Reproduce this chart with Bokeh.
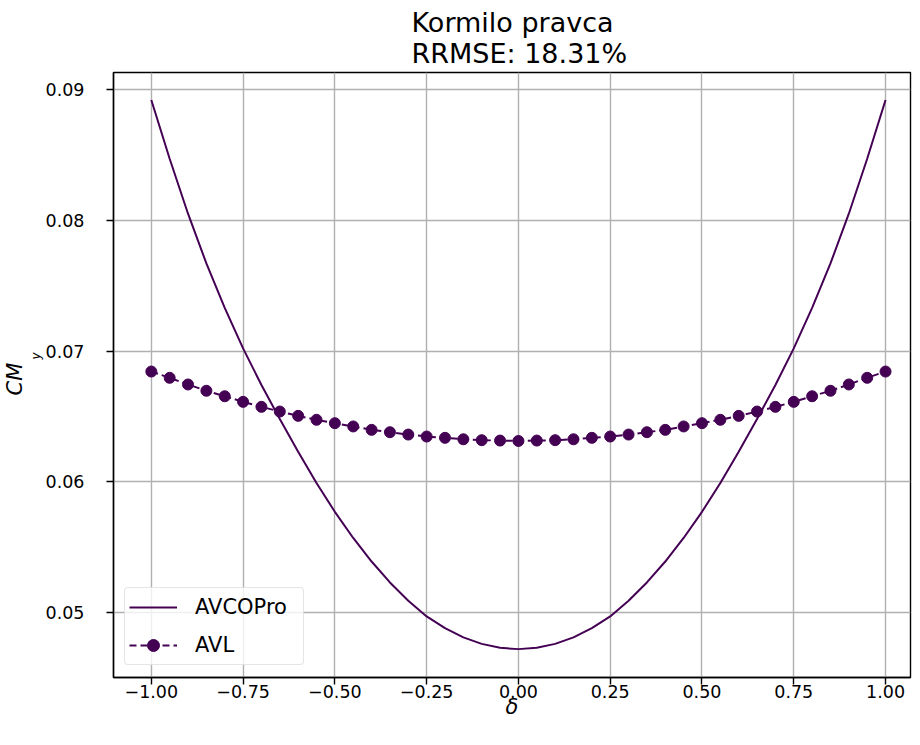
from bokeh.plotting import figure
from bokeh.models import Range1d, FixedTicker, CustomJSTickFormatter, Title
from bokeh.embed import file_html
from bokeh.resources import INLINE

# ---- data ----
title_lines = ["Kormilo pravca", "RRMSE: 18.31%"]
x_label = "δ"
y_label_main = "CM"
y_label_sub = "y"

delta = [-1.00, -0.95, -0.90, -0.85, -0.80, -0.75, -0.70, -0.65, -0.60, -0.55,
         -0.50, -0.45, -0.40, -0.35, -0.30, -0.25, -0.20, -0.15, -0.10, -0.05,
         0.00, 0.05, 0.10, 0.15, 0.20, 0.25, 0.30, 0.35, 0.40, 0.45,
         0.50, 0.55, 0.60, 0.65, 0.70, 0.75, 0.80, 0.85, 0.90, 0.95, 1.00]

avcopro = [0.0892, 0.0847, 0.0805, 0.0767, 0.0733, 0.0702, 0.0674, 0.0648, 0.0623, 0.0599,
           0.0577, 0.0557, 0.0539, 0.0523, 0.0509, 0.0497, 0.0488, 0.0481, 0.0476, 0.0473,
           0.0472, 0.0473, 0.0476, 0.0481, 0.0488, 0.0497, 0.0509, 0.0523, 0.0539, 0.0557,
           0.0577, 0.0599, 0.0623, 0.0648, 0.0674, 0.0702, 0.0733, 0.0767, 0.0805, 0.0847, 0.0892]

avl = [0.06843, 0.06795, 0.06744, 0.06696, 0.06654, 0.06611, 0.06573, 0.06537, 0.06504, 0.06474,
       0.06448, 0.06423, 0.06397, 0.06379, 0.06361, 0.06346, 0.06336, 0.06325, 0.06318, 0.06315,
       0.06312, 0.06315, 0.06318, 0.06325, 0.06336, 0.06346, 0.06361, 0.06379, 0.06397, 0.06423,
       0.06448, 0.06474, 0.06504, 0.06537, 0.06573, 0.06611, 0.06654, 0.06696, 0.06744, 0.06795, 0.06843]

x_ticks = [-1.00, -0.75, -0.50, -0.25, 0.00, 0.25, 0.50, 0.75, 1.00]
y_ticks = [0.05, 0.06, 0.07, 0.08, 0.09]

color = "#440154"
FONT = "DejaVu Sans"

p = figure(width=912, height=737, output_backend="svg", toolbar_location=None,
           x_range=Range1d(-1.103, 1.068), y_range=Range1d(0.04503, 0.0913),
           min_border_left=111, min_border_right=2, min_border_top=72, min_border_bottom=60)

p.title.text = "\n".join(title_lines)
p.title.align = "left"
p.title.offset = 298
p.title.text_font = FONT
p.title.text_font_size = "27px"
p.title.text_font_style = "normal"
p.title.text_color = "black"
p.title.standoff = 8

p.line(delta, avcopro, line_color=color, line_width=2, legend_label="AVCOPro")
p.line(delta, avl, line_color=color, line_width=2, line_dash="7 4", legend_label="AVL")
p.scatter(delta, avl, size=11, fill_color=color, line_color=color, legend_label="AVL")

for ax in (p.xaxis[0], p.yaxis[0]):
    ax.axis_line_color = "black"
    ax.axis_line_width = 1.4
    ax.major_tick_line_color = "black"
    ax.major_tick_line_width = 1.4
    ax.major_tick_out = 7
    ax.major_tick_in = 0
    ax.minor_tick_out = 0
    ax.minor_tick_in = 0
    ax.major_label_text_font = FONT
    ax.major_label_text_font_size = "17.5px"
    ax.major_label_text_color = "black"

p.xaxis.ticker = FixedTicker(ticks=x_ticks)
p.yaxis.ticker = FixedTicker(ticks=y_ticks)
p.xaxis.formatter = CustomJSTickFormatter(code="return tick.toFixed(2).replace('-', '\u2212');")
p.yaxis.formatter = CustomJSTickFormatter(code="return tick.toFixed(2);")
p.xaxis.major_label_standoff = 0
p.yaxis.major_label_standoff = 22

p.xaxis.axis_label = x_label
p.xaxis.axis_label_text_font = FONT
p.xaxis.axis_label_text_font_size = "21px"
p.xaxis.axis_label_text_font_style = "italic"
p.xaxis.axis_label_text_color = "black"
p.xaxis.axis_label_standoff = -6

p.outline_line_color = "black"
p.outline_line_width = 1.4

p.xgrid.grid_line_color = "#b0b0b0"
p.ygrid.grid_line_color = "#b0b0b0"
p.xgrid.grid_line_width = 1.4
p.ygrid.grid_line_width = 1.4
p.xgrid.ticker = FixedTicker(ticks=x_ticks)
p.ygrid.ticker = FixedTicker(ticks=y_ticks)

# y axis label CM_y as two titles in the left panel (subscript next to the axis)
p.add_layout(Title(text=y_label_sub, align="left", offset=318, standoff=0,
                   text_font=FONT, text_font_size="12px", text_font_style="italic",
                   text_color="black"), "left")
p.add_layout(Title(text=y_label_main, align="left", offset=282, standoff=0,
                   text_font=FONT, text_font_size="21px", text_font_style="italic",
                   text_color="black"), "left")

lg = p.legend[0]
lg.location = (11, 12)
lg.label_text_font = FONT
lg.label_text_font_size = "21px"
lg.label_text_color = "black"
lg.glyph_width = 48
lg.glyph_height = 30
lg.label_standoff = 18
lg.label_width = 104
lg.padding = 4
lg.spacing = 8
lg.margin = 0
lg.border_line_color = "#cccccc"
lg.border_line_width = 1.2
lg.background_fill_alpha = 0.8
lg.border_radius = 4

open("out.html", "w").write(file_html(p, INLINE))
